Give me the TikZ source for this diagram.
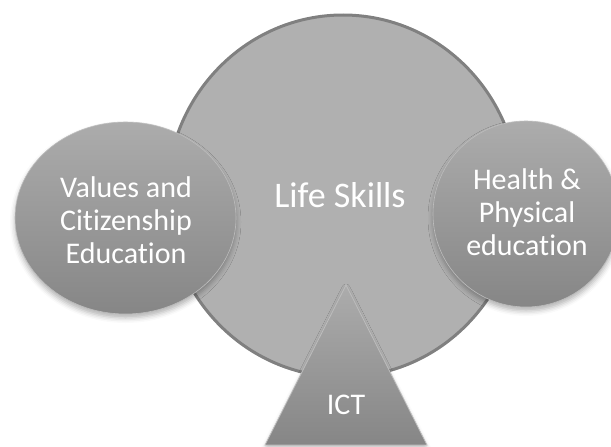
\documentclass[tikz,border=0pt]{standalone}
\usepackage{fontspec}
\setmainfont{Carlito}[Ligatures=CommonOff]
\usetikzlibrary{shapes.geometric,shadows.blur}
\definecolor{bigfill}{HTML}{B0B0B0}
\definecolor{bigline}{HTML}{808080}
\definecolor{shtop}{HTML}{ACACAC}
\definecolor{shbot}{HTML}{868686}
\begin{document}
\begin{tikzpicture}[x=1pt,y=-1pt,
  lbl/.style={text=white, align=center, font=\fontsize{30}{33}\selectfont, inner sep=0pt},
  bubble/.style={ellipse, inner sep=0pt, top color=shtop, bottom color=shbot, draw=shtop!80!white, line width=0.6pt,
    blur shadow={shadow xshift=0pt, shadow yshift=-4pt, shadow blur radius=5pt, shadow opacity=30}},
  tri/.style={top color=shtop, bottom color=shbot, draw=shtop!80!white, line width=0.8pt,
    blur shadow={shadow xshift=0pt, shadow yshift=-3pt, shadow blur radius=4pt, shadow opacity=25}}]
\useasboundingbox (0,0) rectangle (611,447);
\clip (0,0) rectangle (611,447);
% central circle
\node[ellipse, minimum width=352pt, minimum height=362pt, fill=bigfill, draw=bigline, line width=3pt,
      inner sep=0pt] (life) at (343,196) {};
\node[lbl, font=\fontsize{36}{40}\selectfont] (lifetxt) at (340,195) {Life Skills};
% left circle
\node[bubble, minimum width=221pt, minimum height=192pt] (vce) at (125.5,218) {};
\node[lbl] (vcetxt) at (126,220) {Values and\\Citizenship\\Education};
% right circle
\node[bubble, minimum width=186pt, minimum height=186pt] (hpe) at (526,214) {};
\node[lbl] (hpetxt) at (527,212) {Health \&\\Physical\\education};
% triangle
\coordinate (tapex) at (346,285);
\coordinate (tright) at (427,445);
\coordinate (tleft) at (265,445);
\path[tri] (tapex) -- (tright) -- (tleft) -- cycle;
\node[lbl] (ict) at (346,405) {ICT};
\end{tikzpicture}
\end{document}
